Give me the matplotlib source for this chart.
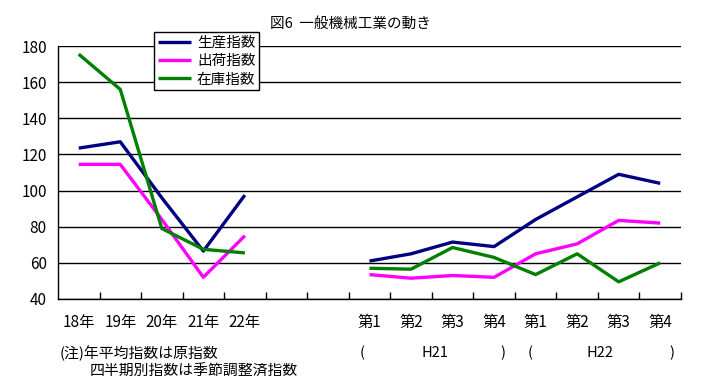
import numpy as np
import matplotlib
matplotlib.use('Agg')
import matplotlib.pyplot as plt

plt.rcParams['font.family'] = ['Noto Sans CJK JP', 'DejaVu Sans']

categories = ['18年', '19年', '20年', '21年', '22年', '', '',
              '第1', '第2', '第3', '第4', '第1', '第2', '第3', '第4']
series_names = ['生産指数', '出荷指数', '在庫指数']

# annual (18-22) then quarterly H21 Q1-Q4, H22 Q1-Q4
annual_prod = [123.5, 127, 96, 66.5, 97.5]
annual_ship = [114.5, 114.5, 84, 52, 75]
annual_stock = [175.5, 156, 79, 67.5, 65.5]
quarter_prod = [61, 65, 71.5, 69, 84, 96.5, 109, 104]
quarter_ship = [53.5, 51.5, 53, 52, 65, 70.5, 83.5, 82]
quarter_stock = [57, 56.5, 68.5, 63, 53.5, 65, 49.5, 60]

colors = ['#000080', '#FF00FF', '#008000']

fig = plt.figure(figsize=(7.21, 3.89), dpi=100)
ax = fig.add_axes([0.0804, 0.2314, 0.8641, 0.6503])

x_annual = np.arange(5)
x_quarter = np.arange(7, 15)
annual = [annual_prod, annual_ship, annual_stock]
quarter = [quarter_prod, quarter_ship, quarter_stock]
for name, a, q, c in zip(series_names, annual, quarter, colors):
    ax.plot(x_annual, a, color=c, lw=2.4, label=name, solid_capstyle='butt')
    ax.plot(x_quarter, q, color=c, lw=2.4, solid_capstyle='butt')

ax.set_xlim(-0.5, 14.5)
ax.set_ylim(40, 180)
ax.set_yticks(np.arange(40, 181, 20))
ax.yaxis.grid(True, color='black', lw=1)
ax.set_axisbelow(True)
for s in ['top', 'right']:
    ax.spines[s].set_visible(False)
ax.spines['left'].set_linewidth(1)
ax.spines['bottom'].set_linewidth(1)

ax.set_xticks(np.arange(0.5, 14.6, 1))
ax.set_xticklabels([])
ax.set_xticks(np.arange(15), minor=True)
ax.set_xticklabels(categories, minor=True, fontsize=11)
ax.tick_params(axis='x', which='major', direction='in', length=5, width=1)
ax.tick_params(axis='x', which='minor', length=0, pad=11)
ax.tick_params(axis='y', length=0, labelsize=11, pad=8)

leg = ax.legend(loc='upper left', bbox_to_anchor=(0.154, 1.055), fontsize=10.5,
                frameon=True, fancybox=False, edgecolor='black', framealpha=1,
                handlelength=2.3, handletextpad=0.4, borderpad=0.25,
                labelspacing=0.3, borderaxespad=0)
leg.get_frame().set_linewidth(1)

fig.text(350 / 721, 1 - 24 / 389, '図6  一般機械工業の動き', ha='center', va='center', fontsize=10.5)
fig.text(60 / 721, 1 - 353 / 389, '(注)年平均指数は原指数', ha='left', va='center', fontsize=10.7)
fig.text(90 / 721, 1 - 372 / 389, '四半期別指数は季節調整済指数', ha='left', va='center', fontsize=10.7)
for xp, t in [(362, '('), (435, 'H21'), (503, ')'), (530, '('), (600, 'H22'), (672, ')')]:
    fig.text(xp / 721, 1 - 353 / 389, t, ha='center', va='center', fontsize=10.5)

fig.savefig('out.png', dpi=100)
